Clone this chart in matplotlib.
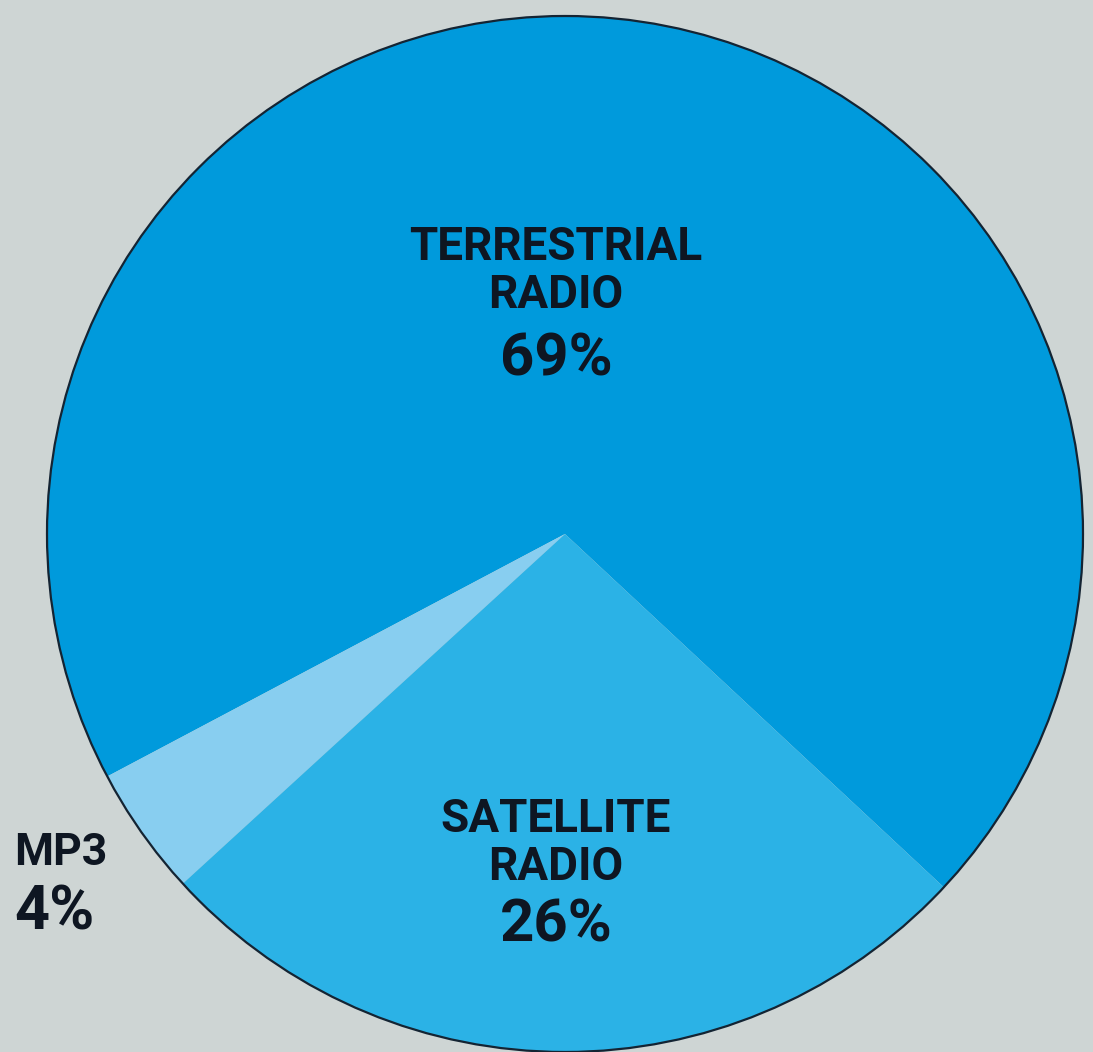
import matplotlib
matplotlib.use("Agg")
import matplotlib.pyplot as plt
from matplotlib.patches import Circle

# Data
categories = ["TERRESTRIAL\nRADIO", "MP3", "SATELLITE\nRADIO"]
values = [69, 4, 26]
pct_labels = ["69%", "4%", "26%"]
colors = ["#009ADC", "#88CEF0", "#2BB2E6"]

W, H = 1093, 1052
fig = plt.figure(figsize=(W / 100, H / 100), dpi=100)
fig.patch.set_facecolor("#CED5D4")
ax = fig.add_axes([0, 0, 1, 1])
ax.set_facecolor("#CED5D4")

cx, cy, R = 565, H - 534, 518
ax.pie(values, colors=colors, startangle=-43, counterclock=True,
       center=(cx, cy), radius=R, wedgeprops=dict(linewidth=0))
ax.add_patch(Circle((cx, cy), R, fill=False, edgecolor="#142433", linewidth=1.6))
ax.set_xlim(0, W)
ax.set_ylim(0, H)
ax.set_aspect("equal")
ax.axis("off")

txt = "#0E1622"
font = dict(family="Roboto", weight="bold", color=txt)

# Terrestrial
name_lines = categories[0].split("\n")
ax.text(556, H - 260, name_lines[0], ha="center", va="baseline", fontsize=33, **font)
ax.text(556, H - 308, name_lines[1], ha="center", va="baseline", fontsize=33, **font)
ax.text(556, H - 375, pct_labels[0], ha="center", va="baseline", fontsize=43, **font)

# Satellite
name_lines = categories[2].split("\n")
ax.text(556, H - 832, name_lines[0], ha="center", va="baseline", fontsize=33, **font)
ax.text(556, H - 880, name_lines[1], ha="center", va="baseline", fontsize=33, **font)
ax.text(556, H - 942, pct_labels[2], ha="center", va="baseline", fontsize=43, **font)

# MP3
ax.text(14, H - 865, categories[1], ha="left", va="baseline", fontsize=32, **font)
ax.text(14, H - 930, pct_labels[1], ha="left", va="baseline", fontsize=44, **font)

fig.savefig("out.png", dpi=100, facecolor=fig.get_facecolor())
